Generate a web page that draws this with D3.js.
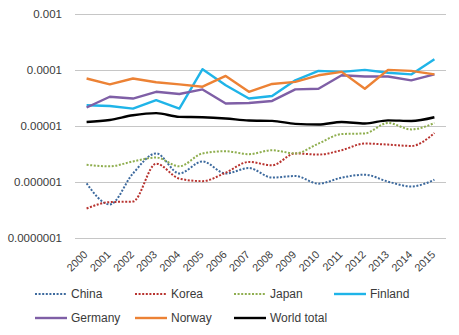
<!DOCTYPE html>
<html>
<head>
<meta charset="utf-8">
<script src="https://cdn.jsdelivr.net/npm/d3@7"></script>
<style>
  body { margin: 0; background: #fff; }
  text { font-family: "Liberation Sans", "DejaVu Sans", sans-serif; fill: #3a3a3a; }
</style>
</head>
<body>
<svg id="chart" width="459" height="335"></svg>
<script>
// years on the category axis
const years = ['2000','2001','2002','2003','2004','2005','2006','2007',
               '2008','2009','2010','2011','2012','2013','2014','2015'];

// shares per country, one value per year
const china   = [9.3e-7, 3.9e-7, 1.4e-6, 3.2e-6, 1.4e-6, 2.3e-6, 1.4e-6, 1.75e-6,
                 1.18e-6, 1.26e-6, 9.2e-7, 1.18e-6, 1.33e-6, 1.0e-6, 8.2e-7, 1.08e-6];
const korea   = [3.3e-7, 4.3e-7, 4.4e-7, 2.1e-6, 1.13e-6, 1.02e-6, 1.45e-6, 2.25e-6,
                 1.96e-6, 3.2e-6, 3.05e-6, 3.65e-6, 4.8e-6, 4.6e-6, 4.35e-6, 7.4e-6];
const japan   = [2.0e-6, 1.88e-6, 2.3e-6, 2.7e-6, 1.88e-6, 3.2e-6, 3.5e-6, 3.1e-6,
                 3.65e-6, 3.2e-6, 4.8e-6, 7.1e-6, 7.3e-6, 1.12e-5, 8.6e-6, 1.12e-5];
const finland = [2.33e-5, 2.26e-5, 2.03e-5, 2.87e-5, 2.03e-5, 1.03e-4, 5.3e-5, 3.07e-5,
                 3.4e-5, 6.5e-5, 9.6e-5, 9.2e-5, 1.0e-4, 8.9e-5, 8.3e-5, 1.55e-4];
const germany = [2.12e-5, 3.3e-5, 3.07e-5, 4.05e-5, 3.7e-5, 4.47e-5, 2.5e-5, 2.56e-5,
                 2.78e-5, 4.47e-5, 4.6e-5, 8.0e-5, 7.6e-5, 7.6e-5, 6.5e-5, 8.3e-5];
const norway  = [7.0e-5, 5.5e-5, 7.0e-5, 6.0e-5, 5.5e-5, 5.0e-5, 7.8e-5, 4.05e-5,
                 5.6e-5, 6.1e-5, 8.0e-5, 9.2e-5, 4.6e-5, 1.0e-4, 9.6e-5, 8.3e-5];
const world   = [1.17e-5, 1.27e-5, 1.54e-5, 1.68e-5, 1.44e-5, 1.42e-5, 1.35e-5, 1.24e-5,
                 1.22e-5, 1.08e-5, 1.05e-5, 1.17e-5, 1.1e-5, 1.25e-5, 1.22e-5, 1.42e-5];

const yTicks = [1e-7, 1e-6, 1e-5, 1e-4, 1e-3];
const yTickLabels = ['0.0000001', '0.000001', '0.00001', '0.0001', '0.001'];

const series = [
  { name: 'China',       values: china,   color: '#3d6a9e', dotted: true },
  { name: 'Korea',       values: korea,   color: '#b8332f', dotted: true },
  { name: 'Japan',       values: japan,   color: '#8fae4f', dotted: true },
  { name: 'Finland',     values: finland, color: '#1fb4e8', dotted: false },
  { name: 'Germany',     values: germany, color: '#7f5fa6', dotted: false },
  { name: 'Norway',      values: norway,  color: '#ec8235', dotted: false },
  { name: 'World total', values: world,   color: '#000000', dotted: false }
];

const svg = d3.select('#chart');
const margin = { left: 75, right: 446, top: 14, bottom: 237.5 };

const x = d3.scaleBand().domain(years).range([margin.left, margin.right]);
const y = d3.scaleLog().domain([1e-7, 1e-3]).range([margin.bottom, margin.top]);

// horizontal gridlines
svg.append('g')
  .selectAll('line')
  .data(yTicks)
  .join('line')
  .attr('x1', margin.left).attr('x2', margin.right)
  .attr('y1', d => Math.round(y(d)) + 0.5)
  .attr('y2', d => Math.round(y(d)) + 0.5)
  .attr('stroke', '#c6c6c6')
  .attr('stroke-width', 1);

// y labels
svg.append('g')
  .selectAll('text')
  .data(yTicks)
  .join('text')
  .attr('x', 62)
  .attr('y', d => y(d))
  .attr('dy', '0.35em')
  .attr('text-anchor', 'end')
  .style('font-size', '11.5px')
  .text((d, i) => yTickLabels[i]);

// rotated year labels
svg.append('g')
  .selectAll('text')
  .data(years)
  .join('text')
  .attr('transform', d => `translate(${x(d) + x.bandwidth() / 2 - 1},${margin.bottom + 15}) rotate(-45)`)
  .attr('text-anchor', 'end')
  .attr('dy', '0.35em')
  .style('font-size', '10.8px')
  .text(d => d);

// the lines
series.forEach(s => {
  const line = d3.line()
    .x((d, i) => x(years[i]) + x.bandwidth() / 2)
    .y(d => y(d))
    .curve(s.dotted || s.name === 'World total' ? d3.curveMonotoneX : d3.curveLinear);

  svg.append('path')
    .datum(s.values)
    .attr('fill', 'none')
    .attr('stroke', s.color)
    .attr('stroke-width', s.dotted ? 2 : 2.4)
    .attr('stroke-dasharray', s.dotted ? '2,1.6' : null)
    .attr('stroke-linejoin', 'round')
    .attr('d', line);
});

// legend, four per row
const legend = svg.append('g');
const colX = [35, 135, 234, 334];
const rowY = [294, 318];

series.forEach((s, i) => {
  const gx = colX[i % 4], gy = rowY[Math.floor(i / 4)];
  const g = legend.append('g').attr('transform', `translate(${gx},${gy})`);
  g.append('line')
    .attr('x1', 0).attr('x2', 32)
    .attr('y1', 0).attr('y2', 0)
    .attr('stroke', s.color)
    .attr('stroke-width', s.dotted ? 2 : 2.4)
    .attr('stroke-dasharray', s.dotted ? '2,1.6' : null);
  g.append('text')
    .attr('x', 36)
    .attr('y', 0)
    .attr('dy', '0.35em')
    .style('font-size', '12px')
    .text(s.name);
});
</script>
</body>
</html>
